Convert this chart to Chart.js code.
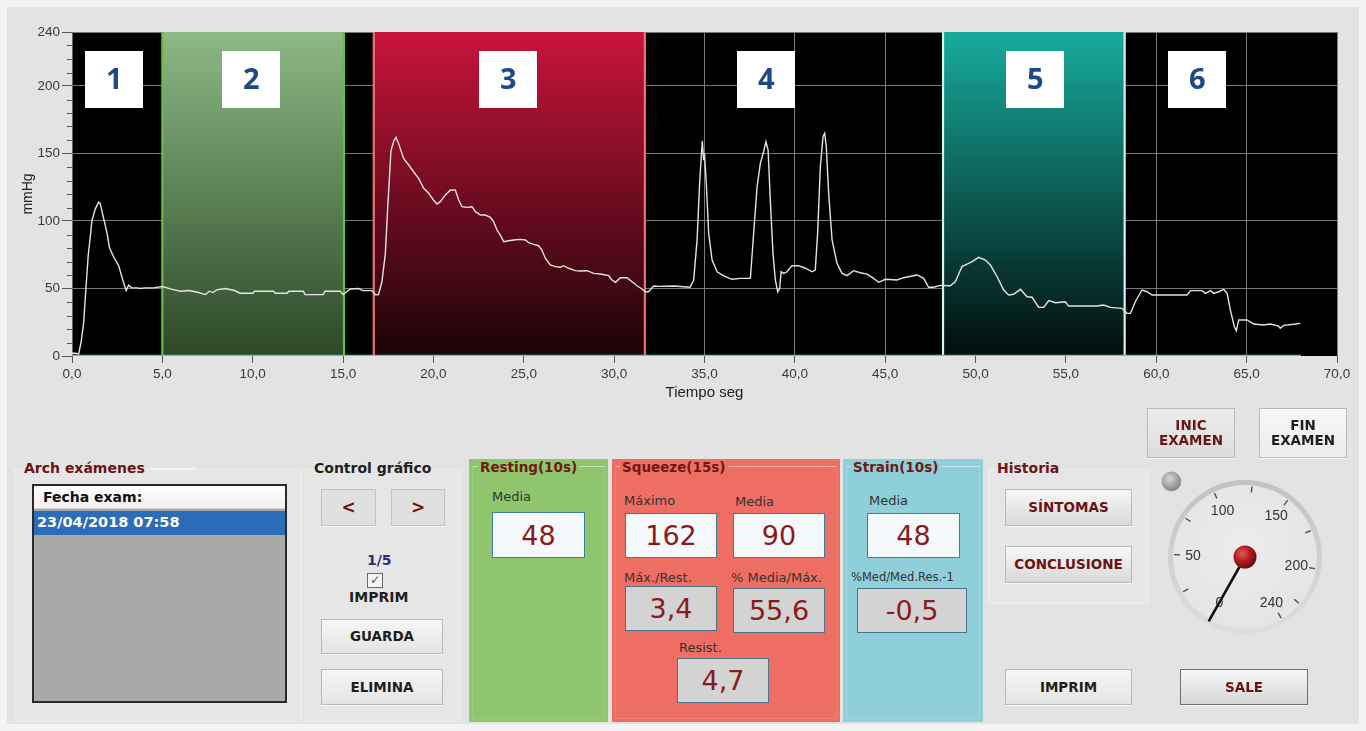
<!DOCTYPE html>
<html><head><meta charset="utf-8">
<script src="https://cdn.jsdelivr.net/npm/chart.js@4.4.1/dist/chart.umd.min.js"></script>
<style>
html,body{margin:0;padding:0;}
body{width:1366px;height:731px;background:#f3f3f3;position:relative;overflow:hidden;font-family:"DejaVu Sans",sans-serif;}
#frame{position:absolute;left:7px;top:7px;width:1352px;height:717px;background:#e3e3e3;}
#c{position:absolute;left:0;top:0;}
.a{position:absolute;white-space:nowrap;}
.grp{position:absolute;background:#e6e6e6;border:1px solid #eeeeee;box-sizing:border-box;}
.gt{position:absolute;font-weight:bold;font-size:14px;white-space:nowrap;}
.red{color:#6b1414;}
.blk{color:#1e1e1e;}
.btn{position:absolute;box-sizing:border-box;display:flex;align-items:center;justify-content:center;text-align:center;font-weight:bold;font-size:13.5px;line-height:15px;background:linear-gradient(#f6f6f6,#e4e4e4);border:1px solid #b9b9b9;box-shadow:0 1px 0 #f8f8f8;}
.panel{position:absolute;top:459px;height:263px;box-sizing:border-box;}
.pframe{position:absolute;top:466px;height:253px;box-sizing:border-box;border:1px solid rgba(255,255,255,0.12);border-top:1px solid rgba(255,255,255,0.5);}
.pt{position:absolute;top:459px;font-weight:bold;font-size:13.5px;color:#6e1a12;white-space:nowrap;padding:0 2px;}
.lbl{position:absolute;font-size:13px;color:#333;white-space:nowrap;}
.val{position:absolute;box-sizing:border-box;display:flex;align-items:center;justify-content:center;font-size:27px;color:#8b1a1a;border:1.5px solid #3d7f9c;}
.w{background:#f6f9fb;}
.g{background:#d3d3d3;border-color:#4a7486;}
</style></head>
<body>
<div id="frame"></div>
<canvas id="c" width="1366" height="410"></canvas>

<!-- Arch exámenes -->
<div class="grp" style="left:14px;top:469px;width:288px;height:253px"></div>
<div class="a" style="left:150px;top:468px;width:45px;height:2px;background:#f4f4f4"></div>
<div class="gt red" style="left:24px;top:460px">Arch exámenes</div>
<div class="a" style="left:32px;top:484px;width:255px;height:219px;border:2px solid #2a2a2a;box-sizing:border-box;background:#a9a9a9"></div>
<div class="a" style="left:34px;top:486px;width:251px;height:23px;background:linear-gradient(#ffffff,#f1f1f1);border-bottom:1px solid #d0d0d0;box-sizing:border-box"></div>
<div class="gt" style="left:43px;top:489px;color:#111">Fecha exam:</div>
<div class="a" style="left:34px;top:511px;width:251px;height:24px;background:#2b6db9"></div>
<div class="gt" style="left:37px;top:514px;color:#fff;font-size:14.5px">23/04/2018 07:58</div>

<!-- Control gráfico -->
<div class="grp" style="left:305px;top:469px;width:156px;height:253px"></div>
<div class="gt blk" style="left:314px;top:460px">Control gráfico</div>
<div class="btn red" style="left:321px;top:489px;width:55px;height:37px;background:#e0e0e0;border-color:#c2c2c2;font-size:17px">&lt;</div>
<div class="btn red" style="left:391px;top:489px;width:54px;height:37px;background:#e0e0e0;border-color:#c2c2c2;font-size:17px">&gt;</div>
<div class="gt" style="left:367px;top:552px;color:#2d2d7a">1/5</div>
<div class="a" style="left:367px;top:573px;width:16px;height:15px;border:1px solid #6a6a6a;box-sizing:border-box;background:#f4f4f4;font-size:12px;line-height:13px;text-align:center;color:#555">✓</div>
<div class="gt blk" style="left:349px;top:589px">IMPRIM</div>
<div class="btn blk" style="left:321px;top:619px;width:122px;height:35px">GUARDA</div>
<div class="btn blk" style="left:321px;top:669px;width:122px;height:36px">ELIMINA</div>

<!-- Resting -->
<div class="panel" style="left:469px;width:139px;background:#8fc56d"></div>
<div class="pframe" style="left:472px;width:133px"></div>
<div class="pt" style="left:478px;background:#8fc56d">Resting(10s)</div>
<div class="lbl" style="left:492px;top:489px">Media</div>
<div class="val w" style="left:492px;top:512px;width:93px;height:46px">48</div>

<!-- Squeeze -->
<div class="panel" style="left:612px;width:228px;background:#ef6e63"></div>
<div class="pframe" style="left:615px;width:222px"></div>
<div class="pt" style="left:620px;background:#ef6e63">Squeeze(15s)</div>
<div class="lbl" style="left:624px;top:493px">Máximo</div>
<div class="val w" style="left:625px;top:513px;width:92px;height:45px">162</div>
<div class="lbl" style="left:735px;top:494px">Media</div>
<div class="val w" style="left:733px;top:513px;width:92px;height:45px">90</div>
<div class="lbl" style="left:624px;top:570px">Máx./Rest.</div>
<div class="val g" style="left:625px;top:586px;width:92px;height:45px">3,4</div>
<div class="lbl" style="left:731px;top:570px">% Media/Máx.</div>
<div class="val g" style="left:733px;top:588px;width:92px;height:45px">55,6</div>
<div class="lbl" style="left:679px;top:640px">Resist.</div>
<div class="val g" style="left:677px;top:658px;width:92px;height:45px">4,7</div>

<!-- Strain -->
<div class="panel" style="left:843px;width:140px;background:#8fcfd9"></div>
<div class="pframe" style="left:846px;width:134px"></div>
<div class="pt" style="left:851px;background:#8fcfd9">Strain(10s)</div>
<div class="lbl" style="left:869px;top:493px">Media</div>
<div class="val w" style="left:867px;top:513px;width:93px;height:45px">48</div>
<div class="lbl" style="left:851px;top:570px;font-size:11.5px">%Med/Med.Res.-1</div>
<div class="val g" style="left:857px;top:588px;width:110px;height:45px">-0,5</div>

<!-- Historia -->
<div class="grp" style="left:988px;top:469px;width:161px;height:135px"></div>
<div class="gt red" style="left:997px;top:460px">Historia</div>
<div class="btn red" style="left:1005px;top:489px;width:127px;height:37px;background:linear-gradient(#f7f7f7,#d9d9d9)">SÍNTOMAS</div>
<div class="btn red" style="left:1005px;top:546px;width:127px;height:37px;background:linear-gradient(#f7f7f7,#d9d9d9)">CONCLUSIONE</div>

<div class="btn red" style="left:1147px;top:408px;width:88px;height:50px;background:linear-gradient(#ececec,#dcdcdc)">INIC<br>EXAMEN</div>
<div class="btn blk" style="left:1259px;top:408px;width:88px;height:50px;background:linear-gradient(#f7f7f7,#ececec)">FIN<br>EXAMEN</div>
<div class="btn blk" style="left:1005px;top:669px;width:127px;height:36px">IMPRIM</div>
<div class="btn red" style="left:1180px;top:669px;width:128px;height:36px;background:linear-gradient(#f7f7f7,#d6d6d6);border:1px solid #6f6f6f">SALE</div>

<div id="gauge" class="a" style="left:1155px;top:465px;width:180px;height:180px"></div>

<script>
// ---- data ----
const timeSec = [0,0.2,0.37,0.5,0.64,0.77,0.9,1.01,1.1,1.29,1.47,1.56,1.75,1.94,2.08,2.3,2.58,2.86,3.0,3.13,3.3,3.6,3.8,4.0,4.5,5.0,5.5,6.0,6.5,7.0,7.38,7.6,7.8,8.0,8.48,9.0,9.3,10.0,10.1,11.15,11.25,11.9,12.0,12.8,12.9,13.9,14.0,14.85,15.0,15.4,15.85,16.1,16.6,16.78,16.96,17.15,17.34,17.47,17.65,17.8,17.93,18.07,18.35,18.63,18.9,19.18,19.46,19.74,20.0,20.2,20.38,20.66,20.94,21.21,21.4,21.58,21.86,22.14,22.32,22.6,22.87,23.15,23.33,23.52,23.7,23.89,24.16,24.44,24.8,25.09,25.27,25.55,25.82,26.0,26.19,26.47,26.75,27.02,27.2,27.48,27.85,28.13,28.5,28.87,29.24,29.7,29.88,30.07,30.35,30.71,30.99,31.27,31.54,31.73,31.9,32.19,32.5,33.3,34.2,34.4,34.59,34.73,34.83,34.88,34.95,35.0,35.1,35.23,35.42,35.7,36.06,36.52,36.98,37.54,37.72,37.91,38.09,38.27,38.4,38.52,38.64,38.79,38.92,39.05,39.16,39.24,39.38,39.57,39.84,40.21,40.58,40.95,41.13,41.26,41.41,41.56,41.65,41.74,41.87,42.06,42.33,42.61,42.89,43.25,43.62,43.99,44.36,44.64,45.01,45.65,46.02,46.76,47.13,47.4,47.68,48.05,48.6,48.88,49.12,49.25,49.53,49.81,50.17,50.54,50.82,51.19,51.56,51.83,52.1,52.48,52.85,53.13,53.49,53.77,54.05,54.42,54.97,55.15,55.8,56.72,57.09,57.46,58.1,58.38,58.57,58.84,59.21,59.49,59.77,60.41,61.7,61.89,62.53,62.72,63.0,63.18,63.46,63.73,63.92,64.1,64.32,64.43,64.56,65.02,65.39,65.94,66.3,66.77,66.86,67.05,67.6,67.97];
const pressure = [2,2,1.5,10,24,50,75,88,100,109,114,113,102,91,80,73.5,67,54,48.5,52.5,50.5,50.5,50,50.5,50.5,51.5,49.5,48,48.5,47,45.5,48,47,49,50,48.5,46.5,46.5,48,48,46.5,46.5,48,48,45.5,45.5,48,48,45.5,49.6,50,48.4,48.4,45.4,45.5,55,76,110,152,159,162,157.5,146.4,141.5,136.5,131.6,124.2,120.5,115.6,112.6,114.3,119.3,123,123,115.6,110.6,110.1,110.6,106.9,104.4,104.4,102.7,99.5,93.3,89.6,84.7,85.4,85.9,86.4,85.9,83.9,82.7,81.7,78.5,72.4,67.4,66.2,65.7,66.9,65,63.2,63,63.2,61.2,60.7,59.5,56.3,54.6,58,58,55,52,49.6,47.6,47.6,51.8,51.6,51.8,51,56,86,128,150,159.5,145,150,128,91,71,62.4,59.3,56.8,57.5,57.5,91,125.4,142.7,151.3,158.7,152.6,115.6,76,56.3,47.6,50,62.4,61.2,62.4,66.9,66.9,65,62.4,63.7,91,140,162.4,165,155,120.5,86,68.7,61.2,59.5,63.2,61.7,60.7,57.5,54.6,56.8,56.3,58,60,57.5,50.9,50.9,52.3,52,55,62.4,66.2,68.1,69.9,73.1,71.1,67.4,58.7,48.9,45.2,45.7,49.4,43.9,43.5,36,36,41,39.5,40.2,37,37,37,37.8,36,35.3,31.6,31.6,40.2,48.9,47.6,45.2,45.2,45.2,48.4,48.4,46.4,48.4,46.4,47.6,49.4,46.4,34,21.7,18.8,26.7,26.7,23.7,23,23.7,22.2,20.5,22.7,23.5,24.2];
const baselineTime = [0, 68];
const baselineValue = [0, 0];
const bandStart = [5.0, 16.7, 48.2];
const bandEnd = [15.05, 31.7, 58.25];
const phaseLabels = ['1','2','3','4','5','6'];
const phaseLabelX = [2.34, 9.92, 24.14, 38.42, 53.31, 62.27];
const phaseLabelYTop = 226, phaseLabelYBottom = 184;
const xMin = 0, xMax = 70, xStep = 5;
const yMin = 0, yMax = 240, yStep = 10;
const yLabelValues = [0, 50, 100, 150, 200, 240];
const yGridValues = [50, 100, 150, 200, 240];
const gaugeTickValues = [0,25,50,75,100,125,150,175,200,225,240];
const gaugeLabelValues = [0,50,100,150,200,240];
const gaugeValue = 0;

// ---- styles ----
const bandStyles = [
  {top:'#8db985', bottom:'#2c4828', edge:'#5fc23a'},
  {top:'#c9143a', bottom:'#1a0407', edge:'#ee7070'},
  {top:'#17ab9c', bottom:'#020d0c', edge:'#d6f2f0'}
];

const bandPlugin = {
  id:'bands',
  beforeDraw(chart){
    const {ctx, chartArea:a} = chart;
    ctx.save(); ctx.fillStyle = '#000'; ctx.fillRect(a.left, a.top, a.right-a.left, a.bottom-a.top); ctx.restore();
  },
  beforeDatasetsDraw(chart){
    const {ctx, chartArea:a, scales:{x}} = chart;
    ctx.save();
    bandStart.forEach((s,i)=>{
      const x0 = x.getPixelForValue(s), x1 = x.getPixelForValue(bandEnd[i]);
      const st = bandStyles[i];
      const gr = ctx.createLinearGradient(0, a.top, 0, a.bottom);
      gr.addColorStop(0, st.top); gr.addColorStop(1, st.bottom);
      ctx.fillStyle = gr; ctx.fillRect(x0, a.top, x1-x0, a.bottom-a.top);
      ctx.strokeStyle = st.edge; ctx.lineWidth = 2.2;
      ctx.beginPath(); ctx.moveTo(x0, a.top); ctx.lineTo(x0, a.bottom); ctx.moveTo(x1, a.top); ctx.lineTo(x1, a.bottom); ctx.stroke();
    });
    ctx.restore();
  },
  afterDatasetsDraw(chart){
    const {ctx, scales:{x,y}} = chart;
    ctx.save();
    const top = y.getPixelForValue(phaseLabelYTop), bot = y.getPixelForValue(phaseLabelYBottom);
    phaseLabels.forEach((t,i)=>{
      const cx = x.getPixelForValue(phaseLabelX[i]);
      ctx.fillStyle = '#ffffff'; ctx.fillRect(Math.round(cx-29), Math.round(top), 58, Math.round(bot-top));
      ctx.fillStyle = '#1c4a87'; ctx.font = 'bold 29px "Open Sans"'; ctx.textAlign='center'; ctx.textBaseline='middle';
      ctx.fillText(t, cx, (top+bot)/2 + 1);
    });
    ctx.restore();
  },
  afterDraw(chart){
    const {ctx, scales:{y}} = chart;
    ctx.save(); ctx.strokeStyle = '#555'; ctx.lineWidth = 1;
    y.ticks.forEach(t=>{
      if (yLabelValues.includes(t.value)) return;
      const py = Math.round(y.getPixelForValue(t.value)) + 0.5;
      ctx.beginPath(); ctx.moveTo(y.right - 5, py); ctx.lineTo(y.right, py); ctx.stroke();
    });
    ctx.restore();
  }
};

new Chart(document.getElementById('c').getContext('2d'), {
  type:'line',
  data:{datasets:[
    {data: timeSec.map((t,i)=>({x:t, y:pressure[i]})), borderColor:'#e4e4e4', borderWidth:1.4, pointRadius:0, tension:0, order:1},
    {data: baselineTime.map((t,i)=>({x:t, y:baselineValue[i]})), borderColor:'#62c3d0', borderWidth:2.5, pointRadius:0, order:2}
  ]},
  options:{
    responsive:false, animation:false, devicePixelRatio:1,
    layout:{padding:{left:0, top:32, right:29, bottom:0}},
    plugins:{legend:{display:false}, tooltip:{enabled:false}},
    scales:{
      x:{type:'linear', min:xMin, max:xMax,
        afterFit(s){ s.height = 54; },
        ticks:{stepSize:xStep, autoSkip:false, maxRotation:0, padding:3, color:'#3a3a3a',
          font:{family:'Liberation Sans', size:13.5}, callback:v=>Number(v).toFixed(1).replace('.',',')},
        grid:{color:'#7c7c7c', lineWidth:1, tickLength:7, tickColor:'#555'},
        border:{display:false},
        title:{display:true, text:'Tiempo seg', color:'#222', font:{family:'Liberation Sans', size:15}, padding:{top:0, bottom:8}}
      },
      y:{min:yMin, max:yMax,
        afterFit(s){ s.width = 72; },
        ticks:{stepSize:yStep, autoSkip:false, padding:2, color:'#3a3a3a', font:{family:'Liberation Sans', size:13.5},
          callback:v=> yLabelValues.includes(v) ? String(v) : ''},
        grid:{color:c=> yGridValues.includes(c.tick.value) ? '#777' : 'rgba(0,0,0,0)', tickLength:10,
          tickColor:c=> yLabelValues.includes(c.tick.value) ? '#555' : 'rgba(0,0,0,0)'},
        border:{display:true, color:'#666'},
        title:{display:true, text:'mmHg', color:'#222', font:{family:'Liberation Sans', size:14}, padding:{top:20, bottom:0}}
      }
    }
  },
  plugins:[bandPlugin]
});

// ---- gauge ----
(function(){
  const cx=90, cy=92;
  const ang = v => (240.6 - 1.25*v) * Math.PI/180;
  const pt = (v,r) => [cx + r*Math.cos(ang(v)), cy - r*Math.sin(ang(v))];
  let s = '<svg xmlns="http://www.w3.org/2000/svg" width="180" height="180">';
  s += '<defs><linearGradient id="bz" x1="0" y1="0" x2="0" y2="1"><stop offset="0" stop-color="#c2c2c2"/><stop offset="1" stop-color="#dedede"/></linearGradient>'+
       '<radialGradient id="fc" cx="0.5" cy="0.45" r="0.6"><stop offset="0" stop-color="#ececec"/><stop offset="1" stop-color="#e4e4e4"/></radialGradient>'+
       '<radialGradient id="kb" cx="0.38" cy="0.35" r="0.65"><stop offset="0" stop-color="#e05a5a"/><stop offset="0.55" stop-color="#b01c1c"/><stop offset="1" stop-color="#6e0c0c"/></radialGradient>'+
       '<radialGradient id="led" cx="0.4" cy="0.35" r="0.7"><stop offset="0" stop-color="#d8d8d8"/><stop offset="1" stop-color="#7d7d7d"/></radialGradient></defs>';
  s += `<circle cx="${cx}" cy="${cy}" r="77" fill="url(#bz)"/>`;
  s += `<circle cx="${cx}" cy="${cy}" r="72" fill="url(#fc)"/>`;
  gaugeTickValues.forEach(v=>{
    const [x1,y1]=pt(v,65), [x2,y2]=pt(v,71);
    s += `<line x1="${x1}" y1="${y1}" x2="${x2}" y2="${y2}" stroke="#444" stroke-width="1.3"/>`;
  });
  gaugeLabelValues.forEach(v=>{
    const [x,y]=pt(v,52);
    s += `<text x="${x}" y="${y+5}" text-anchor="middle" font-family="Liberation Sans" font-size="14" fill="#333">${v}</text>`;
  });
  const [nx,ny]=pt(gaugeValue,74);
  s += `<line x1="${cx}" y1="${cy}" x2="${nx}" y2="${ny}" stroke="#111" stroke-width="2.6"/>`;
  s += `<circle cx="${cx}" cy="${cy}" r="11.5" fill="url(#kb)"/>`;
  s += `<circle cx="16.5" cy="16.5" r="9.5" fill="url(#led)" stroke="#9a9a9a" stroke-width="0.8"/>`;
  s += '</svg>';
  document.getElementById('gauge').innerHTML = s;
})();
</script>
</body></html>
